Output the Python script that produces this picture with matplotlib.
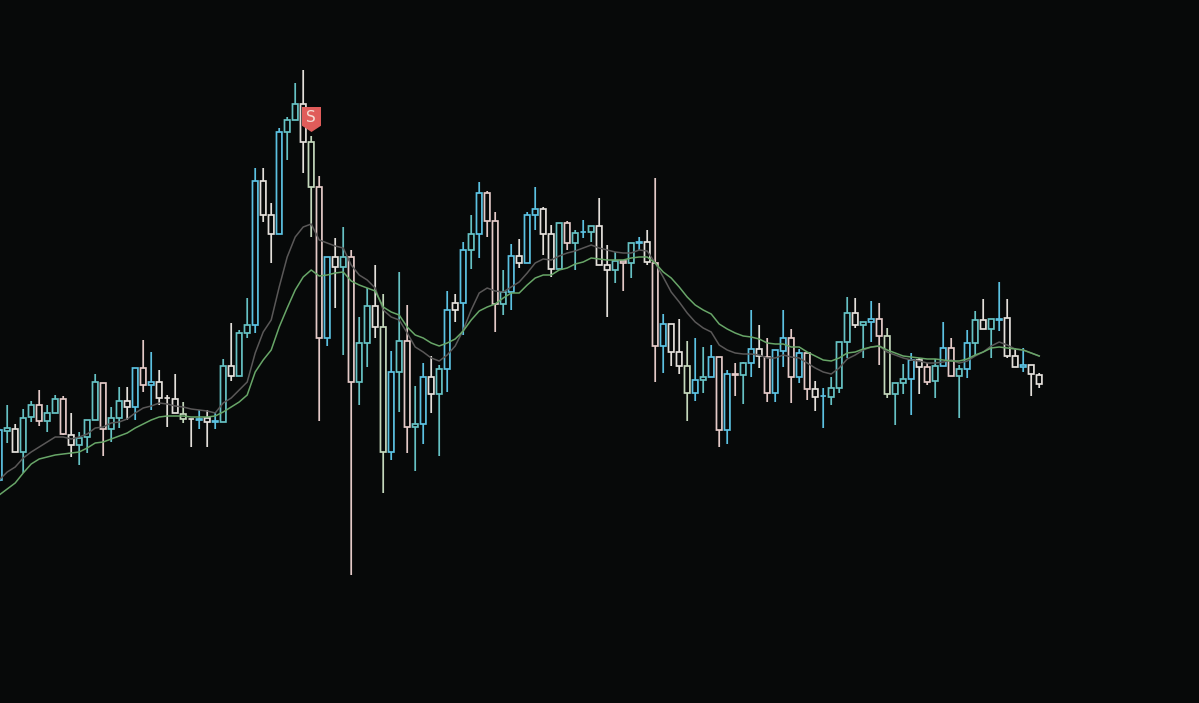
import numpy as np
import matplotlib
matplotlib.use('Agg')
import matplotlib.pyplot as plt
from matplotlib.path import Path

# values are read off the picture, it has no price axis so the scale is image rows
body_top = [430, 428, 429, 418, 405, 405, 413, 399, 399, 435,
            438, 420, 382, 383, 418, 401, 401, 368, 368, 382,
            382, 398, 399, 414, 419, 419, 418, 421, 366, 366,
            333, 325, 181, 181, 215, 132, 120, 104, 104, 142,
            187, 257, 257, 257, 257, 343, 306, 306, 327, 372,
            341, 341, 424, 377, 377, 369, 310, 303, 250, 234,
            193, 193, 221, 292, 256, 256, 215, 209, 209, 234,
            223, 223, 233, 232, 226, 226, 265, 261, 261, 243,
            242, 242, 263, 324, 324, 352, 366, 380, 377, 357,
            357, 374, 374, 363, 349, 349, 357, 350, 338, 338,
            353, 353, 389, 396, 388, 342, 313, 313, 322, 319,
            319, 336, 383, 379, 360, 360, 367, 366, 348, 348,
            369, 343, 320, 320, 319, 319, 318, 356, 365, 365,
            375]
body_bot = [480, 431, 452, 452, 417, 421, 421, 413, 434, 445,
            445, 437, 420, 429, 429, 418, 407, 407, 385, 385,
            398, 398, 413, 419, 419, 420, 422, 422, 422, 376,
            376, 333, 325, 215, 234, 234, 132, 120, 142, 187,
            338, 338, 267, 267, 382, 382, 343, 327, 452, 452,
            372, 427, 427, 424, 394, 394, 369, 310, 303, 250,
            234, 221, 304, 304, 292, 263, 263, 215, 234, 269,
            269, 243, 243, 232, 232, 265, 270, 270, 263, 263,
            243, 262, 346, 346, 352, 366, 393, 393, 380, 377,
            430, 430, 375, 375, 363, 356, 393, 393, 351, 377,
            377, 389, 397, 396, 397, 388, 342, 325, 325, 322,
            336, 394, 394, 383, 379, 367, 382, 381, 366, 376,
            376, 369, 343, 329, 329, 320, 356, 367, 367, 374,
            384]
high = [428, 405, 424, 409, 401, 390, 405, 395, 396, 413,
        432, 420, 374, 383, 407, 387, 387, 368, 340, 352,
        370, 395, 374, 402, 419, 410, 410, 413, 359, 323,
        330, 298, 168, 168, 203, 128, 117, 83, 70, 136,
        176, 257, 238, 227, 250, 317, 288, 265, 294, 351,
        272, 305, 386, 363, 356, 365, 291, 294, 242, 215,
        182, 191, 212, 270, 244, 239, 212, 187, 207, 225,
        223, 221, 230, 220, 226, 198, 245, 252, 261, 243,
        237, 230, 178, 314, 324, 319, 341, 338, 347, 345,
        357, 370, 363, 362, 310, 325, 338, 350, 310, 329,
        349, 353, 381, 388, 377, 342, 297, 298, 322, 301,
        303, 328, 383, 364, 353, 358, 363, 359, 322, 338,
        365, 330, 311, 299, 319, 282, 299, 348, 348, 365,
        373]
low = [482, 443, 452, 473, 422, 426, 432, 413, 435, 457,
       465, 453, 420, 456, 442, 428, 420, 420, 392, 410,
       405, 427, 413, 423, 447, 429, 447, 429, 422, 381,
       376, 338, 333, 222, 263, 234, 160, 120, 173, 237,
       421, 346, 308, 355, 575, 405, 367, 338, 493, 460,
       412, 453, 471, 444, 413, 456, 392, 322, 335, 269,
       258, 237, 332, 315, 310, 268, 263, 230, 255, 277,
       269, 250, 270, 238, 242, 265, 317, 283, 291, 278,
       250, 265, 382, 373, 366, 374, 421, 401, 393, 377,
       447, 444, 396, 404, 377, 368, 402, 402, 367, 403,
       383, 400, 411, 428, 405, 393, 358, 328, 358, 342,
       365, 398, 425, 394, 415, 394, 385, 398, 366, 376,
       418, 378, 355, 329, 358, 331, 358, 367, 372, 396,
       388]
ema_green = [495, 489, 483, 473, 464, 459, 457, 455, 454, 453,
             452, 448, 443, 442, 439, 436, 433, 428, 424, 420,
             417, 416, 416, 416, 417, 417, 417, 416, 412, 407,
             402, 395, 372, 360, 350, 327, 308, 290, 277, 270,
             276, 275, 273, 272, 281, 285, 288, 291, 307, 312,
             315, 327, 335, 338, 343, 346, 343, 339, 331, 320,
             311, 307, 304, 298, 293, 293, 285, 278, 275, 275,
             270, 268, 264, 262, 258, 259, 260, 260, 260, 258,
             257, 257, 263, 272, 278, 287, 297, 305, 310, 314,
             324, 329, 333, 336, 337, 339, 343, 344, 344, 347,
             347, 352, 356, 360, 361, 358, 353, 352, 349, 347,
             346, 350, 353, 356, 357, 358, 359, 359, 360, 361,
             361, 359, 355, 352, 348, 347, 348, 349, 350, 353,
             356]
ema_grey = [480, 472, 467, 458, 452, 447, 442, 437, 437, 439,
            437, 434, 428, 427, 423, 422, 419, 413, 408, 406,
            403, 404, 406, 407, 409, 410, 411, 413, 403, 398,
            390, 382, 353, 332, 320, 287, 257, 237, 227, 224,
            240, 243, 246, 248, 265, 275, 280, 288, 310, 317,
            320, 333, 347, 352, 358, 361, 355, 346, 330, 310,
            293, 288, 291, 292, 287, 282, 273, 263, 259, 260,
            256, 253, 251, 248, 245, 248, 250, 252, 253, 253,
            250, 251, 263, 277, 292, 302, 313, 322, 328, 332,
            345, 350, 353, 354, 354, 355, 358, 358, 355, 357,
            358, 363, 368, 372, 374, 368, 359, 355, 350, 347,
            346, 352, 355, 358, 360, 361, 363, 363, 362, 360,
            363, 361, 356, 352, 346, 342, 345, 349, 350, 353,
            356]
# one letter per candle: blue, teal, white, pink, pale green
kinds = ("btwttpttpw" "tttpttwbpb" "wwwgwbwbtw" "ttbwwbttwg"
         "pbwtpttwgb" "tptbwtbwbt" "bpptbwbbww" "tptbtwwtpt"
         "bwpbwwgbtb" "pbptbwpbbp" "bpwbtttwtb" "pgttbwptbp"
         "tbtwtbwwbw" "w")
signal_candle = 39
signal_price = 118.5
signal_label = 'S'

background = '#070909'
kind_colors = {'b': '#5cc2e2', 't': '#66c2c4', 'w': '#e4e0db',
               'p': '#e4cac8', 'g': '#c4d8bc'}

x = np.arange(len(high))
colors = [kind_colors[k] for k in kinds]
body_top = np.array(body_top)
body_bot = np.array(body_bot)

fig, ax = plt.subplots(figsize=(11.99, 7.03), dpi=100)
fig.subplots_adjust(0, 0, 1, 1)
fig.patch.set_facecolor(background)
ax.set_facecolor(background)

wicks = ax.vlines(x, high, low, colors=colors, linewidth=1.25, zorder=1)
wicks.set_snap(False)
bodies = ax.bar(x, body_bot - body_top, bottom=body_top, width=0.68, facecolor=background,
                edgecolor=colors, linewidth=1.25, zorder=2)
for body in bodies:
    body.set_snap(False)

ax.plot(x, ema_grey, color='#5a5858', linewidth=1.1, zorder=3)
ax.plot(x, ema_green, color='#68a668', linewidth=1.1, zorder=4)

# flag with the point downwards
flag = Path([(-0.76, 1), (0.76, 1), (0.76, -0.5), (0, -1), (-0.76, -0.5), (-0.76, 1)])
ax.plot([signal_candle], [signal_price], marker=flag, markersize=18, color='#e05c5a',
        markeredgewidth=0, linestyle='none', zorder=5)
ax.text(signal_candle, signal_price - 1.5, signal_label, color='#f5dcd4', fontsize=11,
        ha='center', va='center', zorder=6)

ax.set_xlim(0.1, 0.1 + 1199 / 8)
ax.set_ylim(703, 0)
ax.axis('off')

fig.savefig('out.png', dpi=100, facecolor=background)
